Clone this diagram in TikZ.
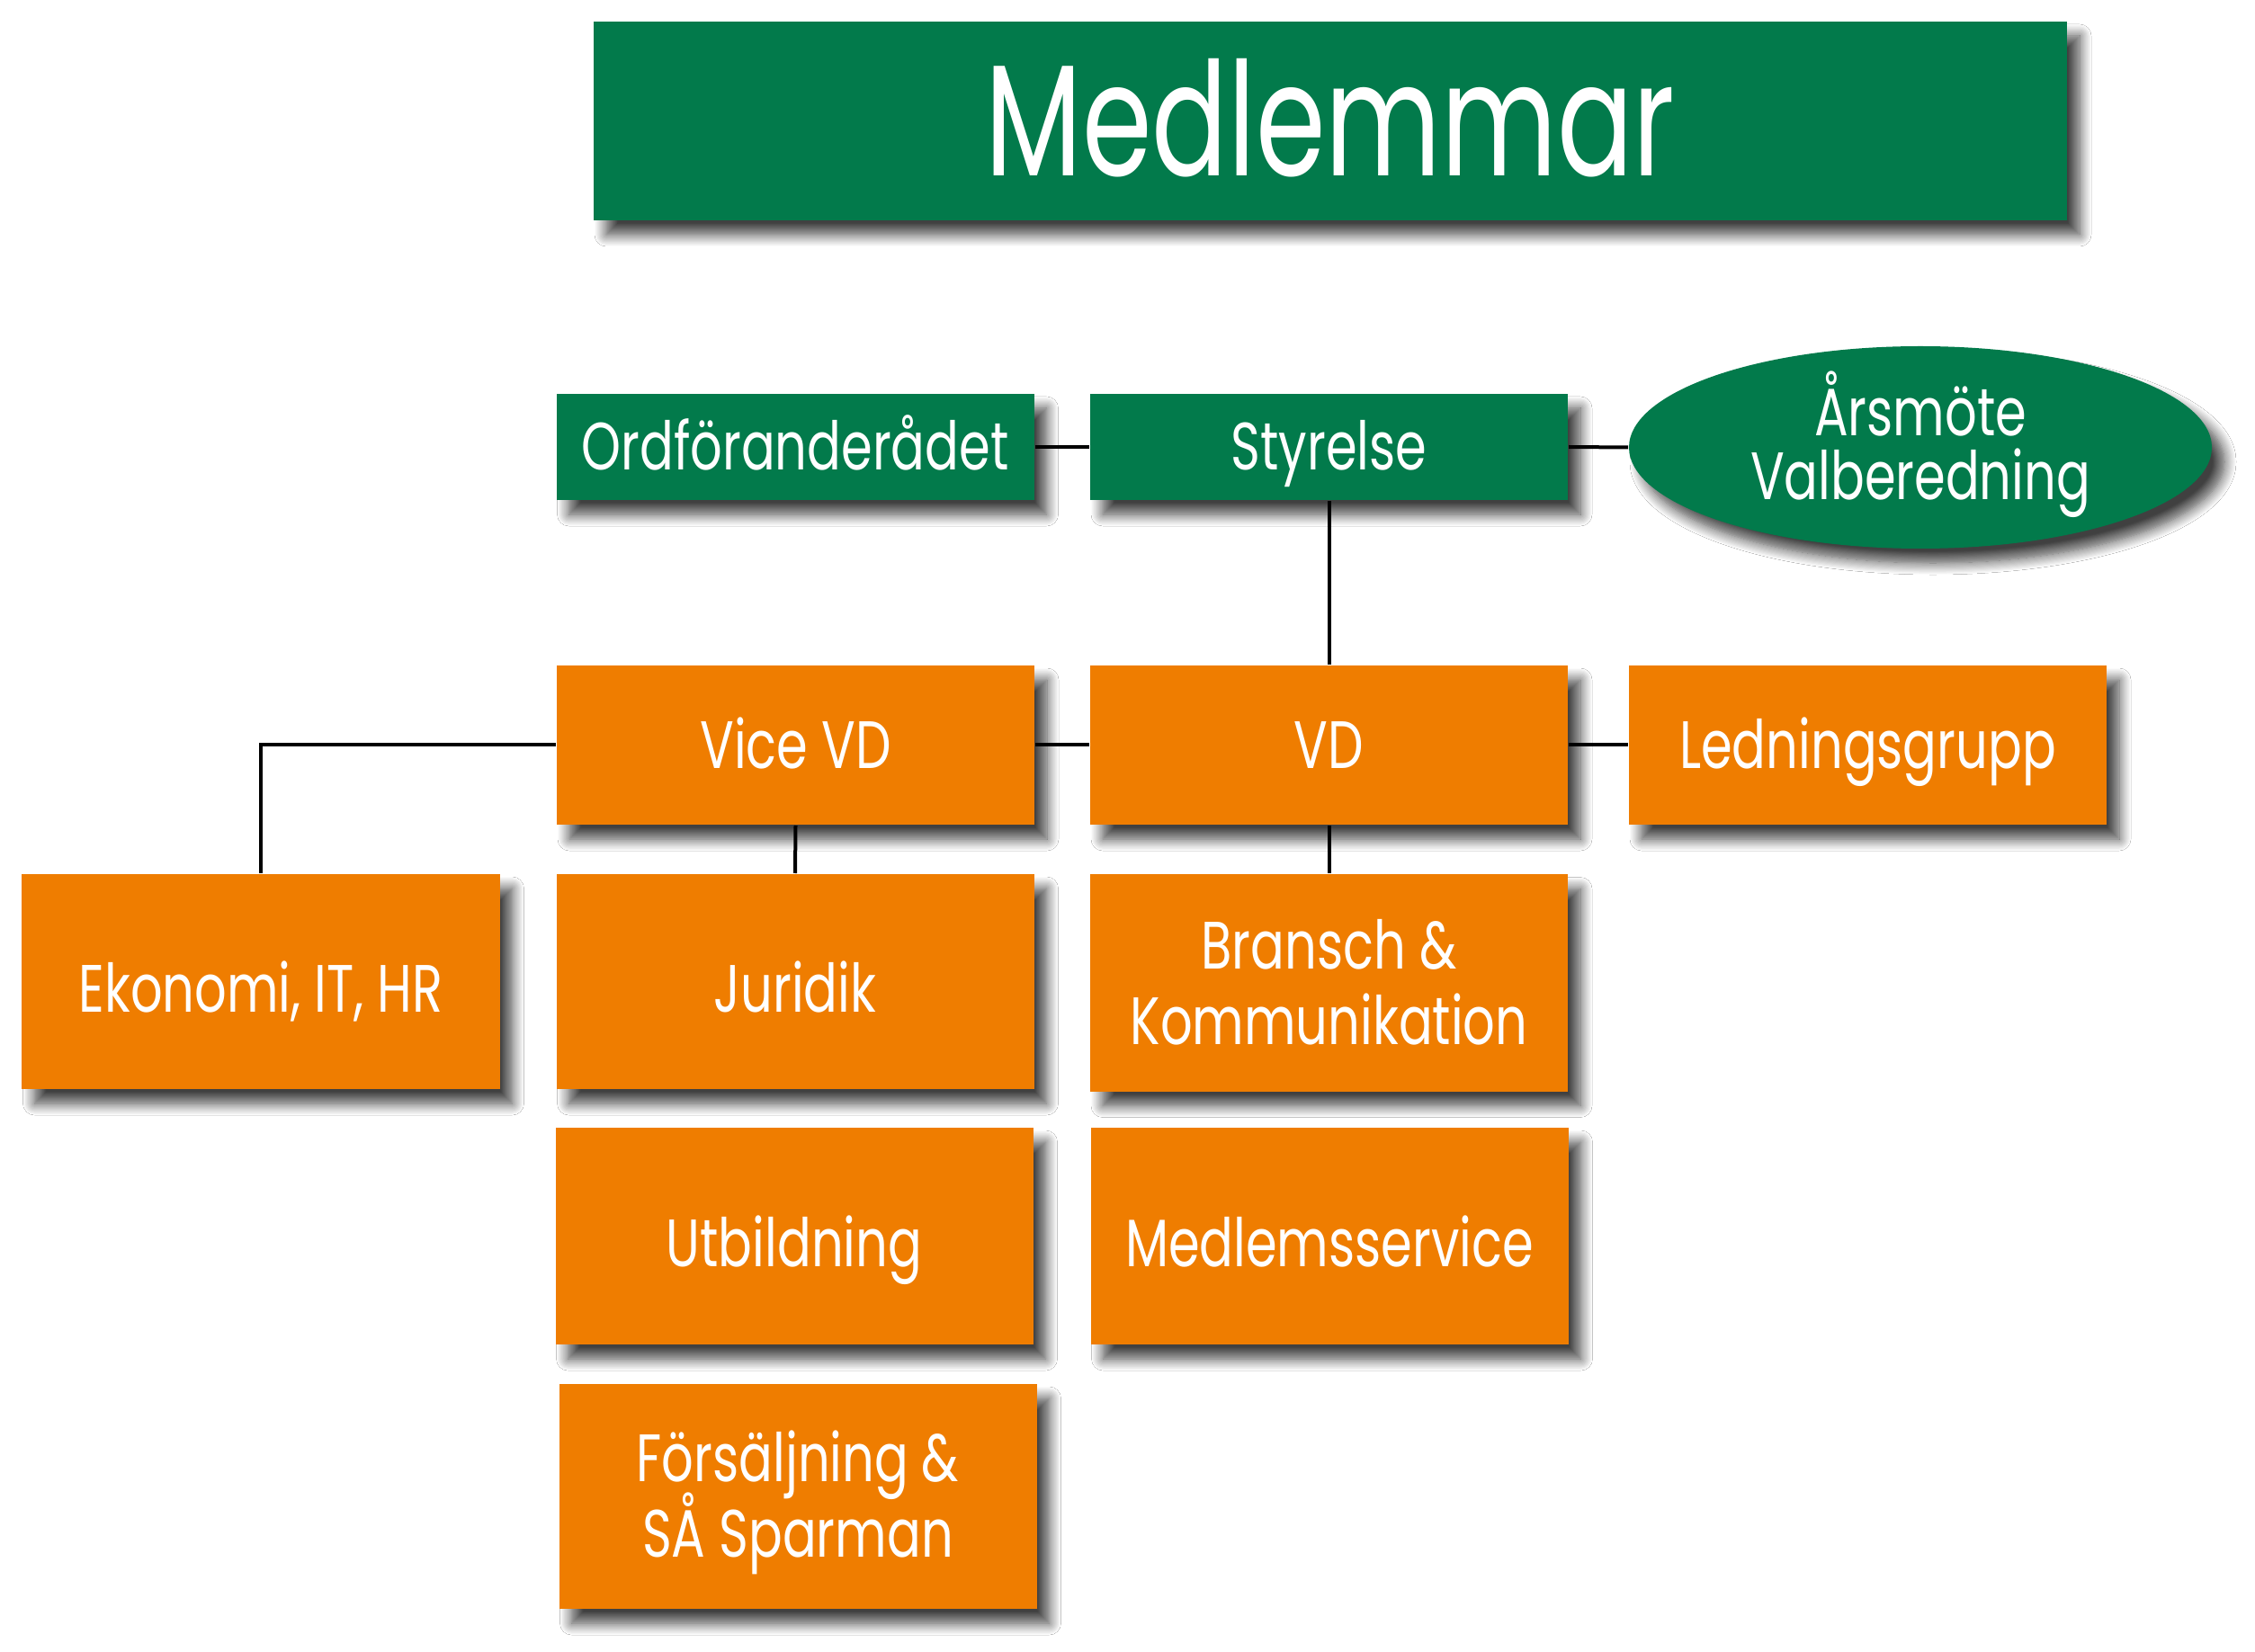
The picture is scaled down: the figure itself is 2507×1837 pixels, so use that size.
\documentclass[tikz,border=0pt]{standalone}
\usepackage{fontspec}
\setmainfont[FakeStretch=0.75]{Poppins}
\newfontfamily\titlefont[FakeStretch=0.71]{Poppins}
\usetikzlibrary{shapes.geometric,shadows.blur}
\definecolor{sgreen}{RGB}{2,122,75}
\definecolor{sorange}{RGB}{239,125,0}
\begin{document}
\begin{tikzpicture}[x=0.2pt,y=-0.2pt,
  shd/.style={blur shadow={shadow xshift=2.8pt,shadow yshift=-3.2pt,shadow blur radius=2.6pt,shadow opacity=75,shadow blur steps=12}},
  lbl/.style={font=\fontsize{14.9pt}{17pt}\selectfont},
  box/.style={rectangle, draw=none, inner sep=0pt, shd, text=white, lbl, text height=10.4pt, text depth=0pt, minimum width=106.2pt},
  gbox/.style={box, fill=sgreen, minimum height=23.6pt},
  obox/.style={box, fill=sorange},
  tall/.style={obox, text height=13.4pt},
  txt/.style={text=white, inner sep=0pt, anchor=base, lbl},
  conn/.style={draw=black, line width=0.8pt}]
\fill[white] (0,0) rectangle (2507,1837);
\useasboundingbox (0,0) rectangle (2507,1837);

% title
\node[box, fill=sgreen, minimum width=327.6pt, minimum height=44.2pt, text height=24.6pt,
      font=\titlefont\fontsize{35.2pt}{40pt}\selectfont] (title) at (1479,134.5) {Medlemmar};

% board level
\node[gbox] (ordf) at (884,497) {Ordföranderådet};
\node[gbox] (sty) at (1477.5,497) {Styrelse};
\node[ellipse, fill=sgreen, draw=none, inner sep=0pt, shd, minimum width=129.6pt, minimum height=45pt] (ars) at (2135,497.5) {};
\node[txt] (ars1) at ([yshift=2.6pt]ars.center) {Årsmöte};
\node[txt] (ars2) at ([yshift=-11.6pt]ars.center) {Valberedning};

% management
\node[obox, minimum height=35.4pt] (vice) at (884.5,828.5) {Vice VD};
\node[obox, minimum height=35.4pt] (vd) at (1477.5,828.5) {VD};
\node[obox, minimum height=35.4pt] (led) at (2076.5,828.5) {Ledningsgrupp};

% departments
\node[tall, minimum height=47.8pt] (eko) at (290,1091.5) {Ekonomi, IT, HR};
\node[tall, minimum height=47.8pt] (jur) at (884,1091.5) {Juridik};
\node[obox, minimum height=48.2pt] (bra) at (1477.5,1093) {};
\node[txt] (bra1) at ([yshift=3.2pt]bra.center) {Bransch \&};
\node[txt] (bra2) at ([yshift=-13.6pt]bra.center) {Kommunikation};
\node[tall, minimum height=48.2pt] (utb) at (883,1374.5) {Utbildning};
\node[tall, minimum height=48.2pt] (med) at (1478,1374.5) {Medlemsservice};
\node[obox, minimum height=50pt] (for) at (887,1664) {};
\node[txt] (for1) at ([yshift=3.4pt]for.center) {Försäljning \&};
\node[txt] (for2) at ([yshift=-13.4pt]for.center) {SÅ Sparman};

% connectors
\draw[conn] (ordf.east) -- (sty.west);
\draw[conn] (sty.east) -- (ars.west);
\draw[conn] (sty.south) -- (vd.north);
\draw[conn] (vice.east) -- (vd.west);
\draw[conn] (vd.east) -- (led.west);
\draw[conn] (vice.west) -| (eko.north);
\draw[conn] (vice.south) -- (jur.north);
\draw[conn] (vd.south) -- (bra.north);
\end{tikzpicture}
\end{document}
